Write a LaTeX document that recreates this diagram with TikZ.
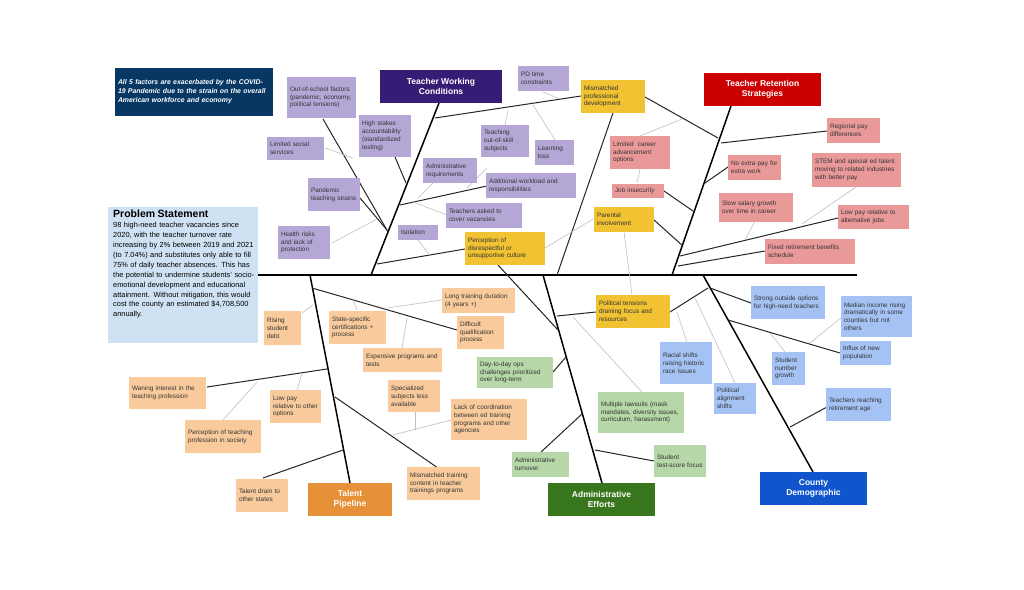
\documentclass[tikz,border=0pt]{standalone}
\usepackage{fontspec}
\setmainfont{Liberation Sans}
\definecolor{cpu}{HTML}{B4A7D6}
\definecolor{cye}{HTML}{F1C232}
\definecolor{cpk}{HTML}{EA9999}
\definecolor{col}{HTML}{F9CB9C}
\definecolor{cgn}{HTML}{B6D7A8}
\definecolor{cbl}{HTML}{A4C2F4}
\definecolor{hpu}{HTML}{351C75}
\definecolor{hrd}{HTML}{CC0000}
\definecolor{hor}{HTML}{E69138}
\definecolor{hgn}{HTML}{38761D}
\definecolor{hbl}{HTML}{1155CC}
\definecolor{hnv}{HTML}{073763}
\definecolor{cps}{HTML}{CFE2F3}
\begin{document}
\begin{tikzpicture}[x=1pt,y=-1pt,
  dk/.style={line width=1pt,black!85},
  bn/.style={line width=1.5pt,black},
  gr/.style={line width=0.6pt,black!25},
  base/.style={inner sep=3pt,align=left,font=\fontsize{6.4}{7.8}\selectfont\hyphenpenalty10000\exhyphenpenalty10000,text=black!80},
  pu/.style={base,fill=cpu},
  ye/.style={base,fill=cye},
  pk/.style={base,fill=cpk},
  ol/.style={base,fill=col},
  gn/.style={base,fill=cgn},
  bl/.style={base,fill=cbl},
  hd/.style={inner sep=2pt,align=center,text=white,font=\fontsize{8.5}{10}\selectfont\bfseries}]
\newcommand\bx[7]{\pgfmathsetmacro\bw{#5-#3}\pgfmathsetmacro\bh{#6-#4}\pgfmathsetmacro\tw{#5-#3-6}%
 \node[#2,minimum width=\bw pt,minimum height=\bh pt,text width=\tw pt] (#1) at ({(#3+#5)/2},{(#4+#6)/2}) {#7};}
\useasboundingbox (0,0) rectangle (1024,589);
\fill[white] (0,0) rectangle (1024,589);
% spine
\draw[line width=2.2pt] (258,275) -- (857,275);
% bones
\draw[bn] (439,103) -- (371,275);
\draw[bn] (731,106) -- (672,275);
\draw[dk] (613,113) -- (557,275);
\draw[bn] (310,275) -- (350,483);
\draw[bn] (543,275) -- (602,483);
\draw[bn] (703,275) -- (813,472);
% dark sub-bones
\draw[dk] (323,119) -- (388,232);
\draw[dk] (395,157) -- (406,183);
\draw[dk] (360,198) -- (387,230);
\draw[dk] (487,186) -- (400,205);
\draw[dk] (435,118) -- (581,96);
\draw[dk] (465,249) -- (377,264);
\draw[dk] (645,97) -- (718,138);
\draw[dk] (827,131) -- (721,143);
\draw[dk] (728,167) -- (705,183);
\draw[dk] (664,191) -- (693,211);
\draw[dk] (654,220) -- (683,246);
\draw[dk] (838,218) -- (680,256);
\draw[dk] (765,251) -- (678,266);
\draw[dk] (312,288) -- (457,330);
\draw[dk] (207,387) -- (327,369);
\draw[dk] (263,478) -- (343,450);
\draw[dk] (335,397) -- (438,468);
\draw[dk] (596,312) -- (557,316);
\draw[dk] (670,312) -- (708,288);
\draw[dk] (553,372) -- (566,357);
\draw[dk] (541,452) -- (582,414);
\draw[dk] (654,461) -- (595,450);
\draw[dk] (498,265) -- (558,330);
\draw[dk] (751,303) -- (710,288);
\draw[dk] (840,353) -- (728,320);
\draw[dk] (827,407) -- (790,427);
% grey lines
\draw[gr] (325,148) -- (353,158);
\draw[gr] (332,243) -- (377,219);
\draw[gr] (418,240) -- (430,255);
\draw[gr] (447,215) -- (413,202);
\draw[gr] (433,183) -- (418,198);
\draw[gr] (487,168) -- (467,188);
\draw[gr] (508,110) -- (505,125);
\draw[gr] (543,92) -- (560,99);
\draw[gr] (555,140) -- (533,105);
\draw[gr] (640,136) -- (682,119);
\draw[gr] (637,183) -- (640,169);
\draw[gr] (593,219) -- (545,248);
\draw[gr] (624,232) -- (632,295);
\draw[gr] (757,217) -- (745,240);
\draw[gr] (856,187) -- (802,224);
\draw[gr] (302,313) -- (313,305);
\draw[gr] (357,310) -- (353,300);
\draw[gr] (442,300) -- (387,308);
\draw[gr] (402,348) -- (407,318);
\draw[gr] (297,390) -- (302,373);
\draw[gr] (223,420) -- (257,382);
\draw[gr] (415,412) -- (415,430);
\draw[gr] (451,420) -- (393,435);
\draw[gr] (642,392) -- (573,317);
\draw[gr] (687,342) -- (677,312);
\draw[gr] (735,383) -- (695,298);
\draw[gr] (785,352) -- (770,333);
\draw[gr] (842,317) -- (810,343);
% headers
\bx{cov}{base,fill=hnv,text=white,font=\fontsize{6.9}{9.2}\selectfont\bfseries\itshape\hyphenpenalty10000}{115}{68}{273}{116}{All 5 factors are exacerbated by the COVID-19 Pandemic due to the strain on the overall American workforce and economy}
\node[hd,fill=hpu,minimum width=122pt,minimum height=33pt] (twc) at (441,86.5) {Teacher Working\\Conditions};
\node[hd,fill=hrd,minimum width=117pt,minimum height=33pt] (trs) at (762.5,89.5) {Teacher Retention\\Strategies};
\node[hd,fill=hor,minimum width=84pt,minimum height=33pt] (tp) at (350,499.5) {Talent\\Pipeline};
\node[hd,fill=hgn,minimum width=107pt,minimum height=33pt] (ae) at (601.5,499.5) {Administrative\\Efforts};
\node[hd,fill=hbl,minimum width=107pt,minimum height=33pt] (cd) at (813.5,488.5) {County\\Demographic};
\fill[cps] (108,207) rectangle (258,343);
\node[inner sep=0pt,text=black,text width=146pt,anchor=north west,font=\fontsize{7.4}{9.9}\selectfont\hyphenpenalty10000,align=left] (ps) at (113,210) {{\fontsize{10.5}{12}\selectfont\bfseries Problem Statement}\\98 high-need teacher vacancies since 2020, with the teacher turnover rate increasing by 2\% between 2019 and 2021 (to 7.04\%) and substitutes only able to fill 75\% of daily teacher absences. This has the potential to undermine students' socio-emotional development and educational attainment. Without mitigation, this would cost the county an estimated \$4,708,500 annually.};
% purple
\bx{p1}{pu}{287}{77}{356}{118}{Out-of-school factors (pandemic, economy, political tensions)}
\bx{p2}{pu}{359}{115}{411}{157}{High stakes accountability (standardized testing)}
\bx{p3}{pu}{267}{137}{324}{160}{Limited social services}
\bx{p4}{pu}{308}{178}{360}{211}{Pandemic teaching strains}
\bx{p5}{pu}{278}{226}{330}{259}{Health risks and lack of protection}
\bx{p6}{pu}{398}{225}{438}{240}{Isolation}
\bx{p7}{pu}{446}{203}{522}{228}{Teachers asked to cover vacancies}
\bx{p8}{pu}{423}{158}{477}{183}{Administrative requirements}
\bx{p9}{pu}{486}{173}{576}{198}{Additional workload and responsibilities}
\bx{p10}{pu}{481}{125}{529}{157}{Teaching out-of-skill subjects}
\bx{p11}{pu}{535}{140}{574}{165}{Learning loss}
\bx{p12}{pu}{518}{66}{569}{91}{PD time constraints}
% yellow
\bx{y1}{ye}{581}{80}{645}{113}{Mismatched professional development}
\bx{y2}{ye}{465}{232}{545}{265}{Perception of disrespectful or unsupportive culture}
\bx{y3}{ye}{594}{207}{654}{232}{Parental involvement}
\bx{y4}{ye}{596}{295}{670}{328}{Political tensions draining focus and resources}
% pink
\bx{r1}{pk}{610}{136}{670}{169}{Limited\ \ career advancement options}
\bx{r2}{pk}{612}{184}{664}{198}{Job insecurity}
\bx{r3}{pk}{827}{118}{880}{143}{Regional pay differences}
\bx{r4}{pk}{728}{155}{781}{180}{No extra pay for extra work}
\bx{r5}{pk}{812}{153}{901}{187}{STEM and special ed talent moving to related industries with better pay}
\bx{r6}{pk}{719}{193}{793}{222}{Slow salary growth over time in career}
\bx{r7}{pk}{838}{205}{909}{229}{Low pay relative to alternative jobs}
\bx{r8}{pk}{765}{239}{855}{264}{Fixed retirement benefits schedule}
% orange
\bx{o1}{ol}{442}{288}{515}{313}{Long training duration (4 years +)}
\bx{o2}{ol}{264}{311}{301}{345}{Rising student debt}
\bx{o3}{ol}{329}{311}{386}{344}{State-specific certifications + process}
\bx{o4}{ol}{457}{316}{504}{349}{Difficult qualification process}
\bx{o5}{ol}{363}{348}{442}{372}{Expensive programs and tests}
\bx{o6}{ol}{388}{380}{440}{412}{Specialized subjects less available}
\bx{o7}{ol}{129}{377}{206}{409}{Waning interest in the teaching profession}
\bx{o8}{ol}{270}{390}{321}{423}{Low pay relative to other options}
\bx{o9}{ol}{185}{420}{261}{453}{Perception of teaching profession in society}
\bx{o10}{ol}{451}{399}{527}{440}{Lack of coordination between ed training programs and other agencies}
\bx{o11}{ol}{236}{479}{288}{512}{Talent drain to other states}
\bx{o12}{ol}{407}{467}{480}{500}{Mismatched training content in teacher trainings programs}
% green
\bx{g1}{gn}{477}{357}{553}{388}{Day-to-day ops challenges prioritized over long-term}
\bx{g2}{gn}{598}{392}{684}{433}{Multiple lawsuits (mask mandates, diversity issues, curriculum, harassment)}
\bx{g3}{gn}{512}{452}{569}{477}{Administrative turnover}
\bx{g4}{gn}{654}{445}{706}{477}{Student test-score focus}
% blue
\bx{b1}{bl}{751}{286}{825}{319}{Strong outside options for high-need teachers}
\bx{b2}{bl}{841}{296}{912}{337}{Median income rising dramatically in some counties but not others}
\bx{b3}{bl}{660}{342}{712}{384}{Racial shifts raising historic race issues}
\bx{b4}{bl}{840}{341}{891}{365}{Influx of new population}
\bx{b5}{bl}{772}{352}{805}{385}{Student number growth}
\bx{b6}{bl}{714}{383}{756}{414}{Political alignment shifts}
\bx{b7}{bl}{826}{388}{891}{421}{Teachers reaching retirement age}
\end{tikzpicture}
\end{document}
